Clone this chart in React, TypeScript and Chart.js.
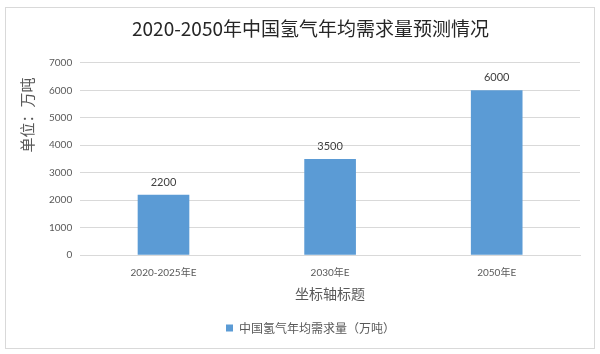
import React, { useEffect, useRef } from "react";
import { Chart, registerables } from "chart.js";

Chart.register(...registerables);

const categories = ["2020-2025年E", "2030年E", "2050年E"];
const demand = [2200, 3500, 6000];
const seriesName = "中国氢气年均需求量（万吨）";
const chartTitle = "2020-2050年中国氢气年均需求量预测情况";
const yTitle = "单位：万吨";
const xTitle = "坐标轴标题";

const FONT = "Lato, 'Noto Sans CJK SC', sans-serif";
const CJK = "'Noto Sans CJK SC', sans-serif";

const valueLabels = {
  id: "valueLabels",
  afterDatasetsDraw(chart: any) {
    const ctx = chart.ctx;
    const meta = chart.getDatasetMeta(0);
    ctx.save();
    ctx.font = `11px ${FONT}`;
    ctx.fillStyle = "#404040";
    ctx.textAlign = "center";
    ctx.textBaseline = "bottom";
    meta.data.forEach((el: any, i: number) => {
      ctx.fillText(String(chart.data.datasets[0].data[i]), el.x, el.y - 7);
    });
    ctx.restore();
  },
};

const yTitlePlugin = {
  id: "yTitlePlugin",
  afterDraw(chart: any) {
    const ctx = chart.ctx;
    ctx.save();
    ctx.translate(21, 107);
    ctx.rotate(-Math.PI / 2);
    ctx.font = `15px ${CJK}`;
    ctx.fillStyle = "#595959";
    ctx.textAlign = "center";
    ctx.textBaseline = "middle";
    ctx.fillText(yTitle, 0, 0);
    ctx.restore();
  },
};

export default function App() {
  const ref = useRef<HTMLCanvasElement>(null);
  useEffect(() => {
    if (!ref.current) return;
    const chart = new Chart(ref.current, {
      type: "bar",
      data: {
        labels: categories,
        datasets: [
          {
            label: seriesName,
            data: demand,
            backgroundColor: "#5B9BD5",
            barPercentage: 0.62,
            categoryPercentage: 0.5,
          },
        ],
      },
      options: {
        animation: false,
        responsive: false,
        maintainAspectRatio: false,
        layout: { padding: { left: 35, right: 14, top: 0, bottom: 4 } },
        plugins: {
          title: {
            display: true,
            text: chartTitle,
            color: "#262626",
            font: { family: CJK, size: 19, weight: "normal" },
            padding: { top: 9, bottom: 23 },
          },
          legend: {
            position: "bottom",
            labels: {
              boxWidth: 7,
              boxHeight: 7,
              color: "#595959",
              font: { family: CJK, size: 12 },
              padding: 10,
            },
          },
          tooltip: { enabled: false },
        },
        scales: {
          x: {
            grid: { display: false },
            border: { display: true, color: "#d9d9d9" },
            ticks: { color: "#595959", font: { family: FONT, size: 10 }, padding: 4 },
            title: {
              display: true,
              text: xTitle,
              color: "#595959",
              font: { family: CJK, size: 14 },
              padding: { top: 2, bottom: 10 },
            },
          },
          y: {
            min: 0,
            max: 7000,
            ticks: {
              stepSize: 1000,
              color: "#595959",
              font: { family: FONT, size: 10 },
              padding: 8,
              callback: (v: any) => String(v),
            },
            grid: { color: "#d9d9d9", drawTicks: false },
            border: { display: false },
          },
        },
      },
      plugins: [valueLabels, yTitlePlugin],
    });
    return () => chart.destroy();
  }, []);
  return (
    <div
      style={{
        position: "absolute",
        left: 5,
        top: 7,
        width: 588,
        height: 340,
        border: "1px solid #d9d9d9",
        background: "#fff",
      }}
    >
      <canvas ref={ref} width={588} height={340} style={{ display: "block" }} />
    </div>
  );
}
